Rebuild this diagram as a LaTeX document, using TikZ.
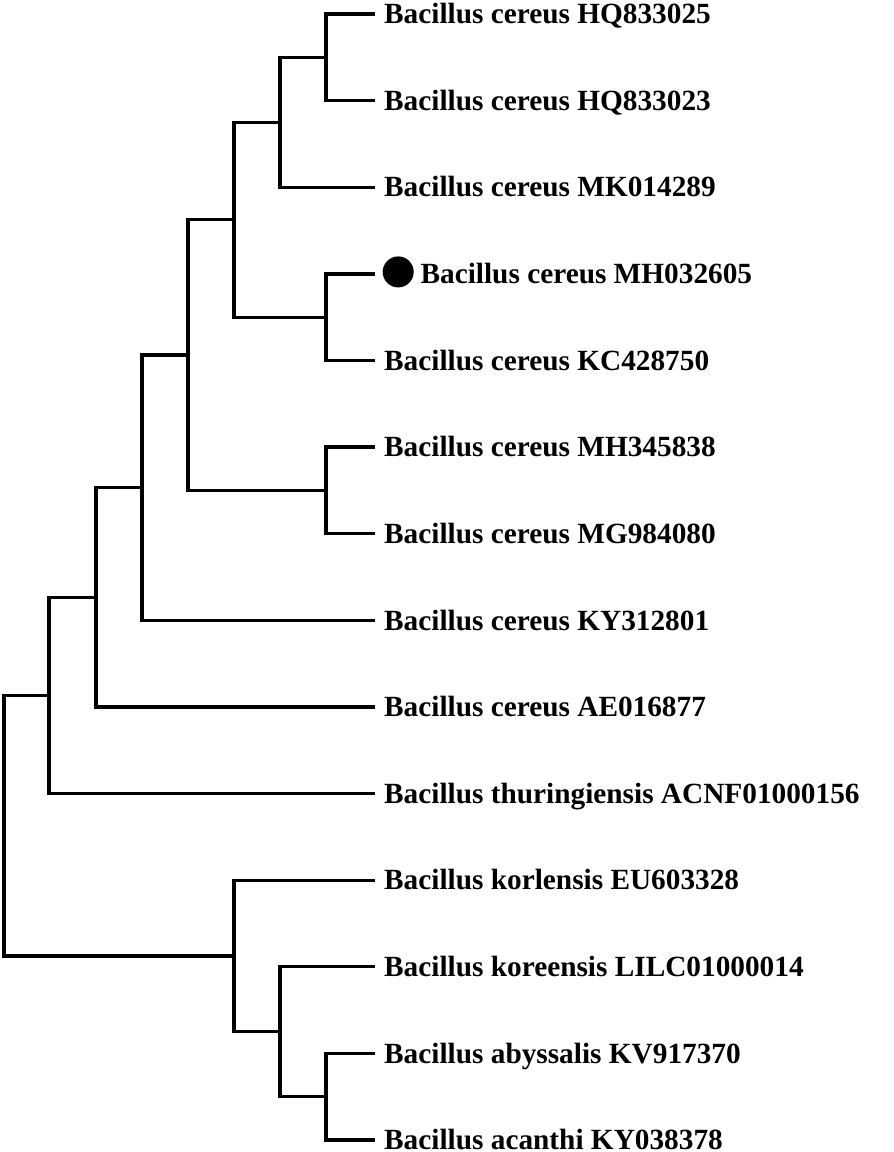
\documentclass[tikz,border=0pt]{standalone}
\usepackage{fontspec}
\setmainfont{Liberation Serif}
\usetikzlibrary{positioning}

\tikzset{
  branch/.style={line width=3.3pt, line join=miter, line cap=butt},
  leaf/.style={inner sep=0pt, text height=19.4pt, text depth=0pt,
    font=\fontsize{29.3}{32}\selectfont\bfseries},
  marker/.style={circle, fill=black, inner sep=0pt, minimum size=31pt},
}

\begin{document}
\begin{tikzpicture}[x=1pt, y=-1pt]
    \useasboundingbox (0,0) rectangle (894,1152);
% tips
    \coordinate (t1) at (375,14) ; %
    \coordinate (t2) at (375,100.6) ; %
    \coordinate (t3) at (375,187.2) ; %
    \coordinate (t4) at (375,273.9) ; %
    \coordinate (t5) at (375,360.5) ; %
    \coordinate (t6) at (375,447.1) ; %
    \coordinate (t7) at (375,533.7) ; %
    \coordinate (t8) at (375,620.3) ; %
    \coordinate (t9) at (375,707) ; %
    \coordinate (t10) at (375,793.6) ; %
    \coordinate (t11) at (375,880.2) ; %
    \coordinate (t12) at (375,966.8) ; %
    \coordinate (t13) at (375,1053.4) ; %
    \coordinate (t14) at (375,1140.1) ; %
% labels
    \node[leaf, right=9pt of t1] (hq025) {Bacillus cereus HQ833025} ; %
    \node[leaf, right=9pt of t2] (hq023) {Bacillus cereus HQ833023} ; %
    \node[leaf, right=9pt of t3] (mk289) {Bacillus cereus MK014289} ; %
    \node[marker, right=7.5pt of t4, yshift=2pt] (dot) {} ; %
    \node[leaf, right=6.5pt of dot, yshift=-2pt] (mh605) {Bacillus cereus MH032605} ; %
    \node[leaf, right=9pt of t5] (kc750) {Bacillus cereus KC428750} ; %
    \node[leaf, right=9pt of t6] (mh838) {Bacillus cereus MH345838} ; %
    \node[leaf, right=9pt of t7] (mg080) {Bacillus cereus MG984080} ; %
    \node[leaf, right=9pt of t8] (ky801) {Bacillus cereus KY312801} ; %
    \node[leaf, right=9pt of t9] (ae877) {Bacillus cereus AE016877} ; %
    \node[leaf, right=9pt of t10] (acnf) {Bacillus thuringiensis ACNF01000156} ; %
    \node[leaf, right=9pt of t11] (eu328) {Bacillus korlensis EU603328} ; %
    \node[leaf, right=9pt of t12] (lilc) {Bacillus koreensis LILC01000014} ; %
    \node[leaf, right=9pt of t13] (kv370) {Bacillus abyssalis KV917370} ; %
    \node[leaf, right=9pt of t14] (ky378) {Bacillus acanthi KY038378} ; %
% clades
    \coordinate (n1) at (326,57.3) ; %
    \coordinate (n2) at (280,122.25) ; %
    \coordinate (n3) at (326,317.2) ; %
    \coordinate (n4) at (234,219.7) ; %
    \coordinate (n5) at (326,490.4) ; %
    \coordinate (n6) at (188,355.05) ; %
    \coordinate (n7) at (142,487.7) ; %
    \coordinate (n8) at (96,597.35) ; %
    \coordinate (n9) at (49,695.5) ; %
    \coordinate (n10) at (326,1096.75) ; %
    \coordinate (n11) at (280,1031.8) ; %
    \coordinate (n12) at (234,956) ; %
    \coordinate (root) at (4,825.75) ; %
% edges
    \draw[branch] (n1) |- (t1) ; %
    \draw[branch] (n1) |- (t2) ; %
    \draw[branch] (n2) |- (n1) ; %
    \draw[branch] (n2) |- (t3) ; %
    \draw[branch] (n3) |- (t4) ; %
    \draw[branch] (n3) |- (t5) ; %
    \draw[branch] (n4) |- (n2) ; %
    \draw[branch] (n4) |- (n3) ; %
    \draw[branch] (n5) |- (t6) ; %
    \draw[branch] (n5) |- (t7) ; %
    \draw[branch] (n6) |- (n4) ; %
    \draw[branch] (n6) |- (n5) ; %
    \draw[branch] (n7) |- (n6) ; %
    \draw[branch] (n7) |- (t8) ; %
    \draw[branch] (n8) |- (n7) ; %
    \draw[branch] (n8) |- (t9) ; %
    \draw[branch] (n9) |- (n8) ; %
    \draw[branch] (n9) |- (t10) ; %
    \draw[branch] (n10) |- (t13) ; %
    \draw[branch] (n10) |- (t14) ; %
    \draw[branch] (n11) |- (t12) ; %
    \draw[branch] (n11) |- (n10) ; %
    \draw[branch] (n12) |- (t11) ; %
    \draw[branch] (n12) |- (n11) ; %
    \draw[branch] (root) |- (n9) ; %
    \draw[branch] (root) |- (n12) ; %
\end{tikzpicture}
\end{document}
